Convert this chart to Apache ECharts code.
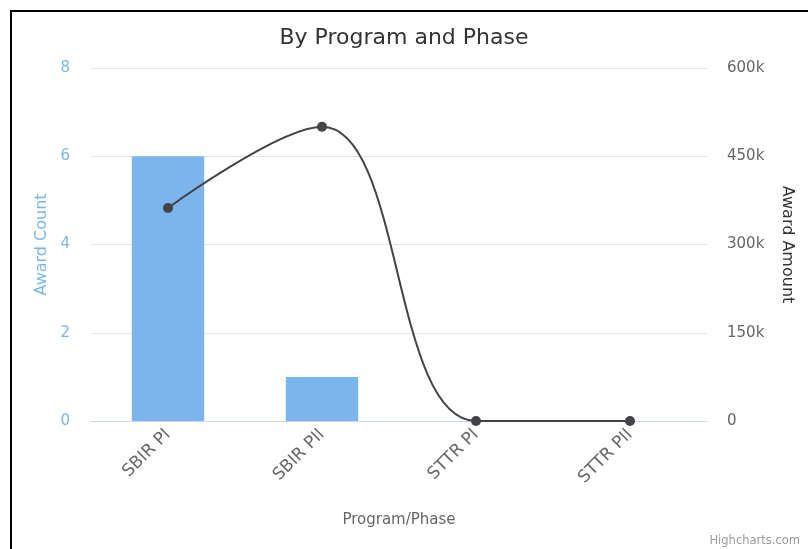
<!DOCTYPE html>
<html>
<head>
<meta charset="utf-8">
<script src="https://cdn.jsdelivr.net/npm/echarts@6/dist/echarts.min.js"></script>
<style>
  html, body { margin: 0; padding: 0; background: #fff; }
  #chart { position: absolute; left: 0; top: 0; width: 808px; height: 549px; }
  #frame { position: absolute; left: 10px; top: 10px; width: 820px; height: 560px;
           border-left: 2px solid #000; border-top: 2px solid #000; pointer-events: none; }
</style>
</head>
<body>
<div id="chart"></div>
<div id="frame"></div>
<script>
// values
const categories = ['SBIR PI', 'SBIR PII', 'STTR PI', 'STTR PII'];
const awardCount = [6, 1, 0, 0];
const awardAmount = [362000, 500000, 0, 0];

const font = 'DejaVu Sans';
const chart = echarts.init(document.getElementById('chart'));

chart.setOption({
  animation: false,
  textStyle: { fontFamily: font },
  title: {
    text: 'By Program and Phase',
    left: 'center',
    top: 22,
    textStyle: { fontSize: 22, fontWeight: 'normal', color: '#333', fontFamily: font }
  },
  graphic: [{
    type: 'text',
    right: 8,
    bottom: 2,
    style: { text: 'Highcharts.com', fill: '#999', fontSize: 11.5, fontFamily: font }
  }],
  grid: { left: 91, right: 101, top: 68, bottom: 128 },
  xAxis: {
    type: 'category',
    data: categories,
    name: 'Program/Phase',
    nameLocation: 'middle',
    nameGap: 92,
    nameTextStyle: { color: '#666', fontSize: 15 },
    axisLine: { lineStyle: { color: '#ccd6eb' } },
    axisTick: { length: 10, lineStyle: { color: '#ccd6eb' } },
    axisLabel: { rotate: 45, color: '#666', fontSize: 17, margin: 11 }
  },
  yAxis: [
    {
      type: 'value',
      min: 0, max: 8, interval: 2,
      name: 'Award Count',
      nameLocation: 'middle',
      nameGap: 41,
      nameTextStyle: { color: '#7cb5ec', fontSize: 16 },
      axisLabel: { color: '#7cb5ec', fontSize: 15, margin: 21 },
      splitLine: { lineStyle: { color: '#e6e6e6' } }
    },
    {
      type: 'value',
      min: 0, max: 600000, interval: 150000,
      name: 'Award Amount',
      nameLocation: 'middle',
      nameRotate: -90,
      nameGap: 72,
      nameTextStyle: { color: '#333', fontSize: 16 },
      axisLabel: {
        color: '#666', fontSize: 15, margin: 20,
        formatter: v => v === 0 ? '0' : (v / 1000) + 'k'
      },
      splitLine: { show: false }
    }
  ],
  series: [
    {
      name: 'Award Count',
      type: 'bar',
      data: awardCount,
      barWidth: '47%',
      itemStyle: { color: '#7cb5ec' }
    },
    {
      name: 'Award Amount',
      type: 'line',
      yAxisIndex: 1,
      data: awardAmount,
      smooth: 0.4,
      symbol: 'circle',
      symbolSize: 10,
      lineStyle: { color: '#434348', width: 2 },
      itemStyle: { color: '#434348' }
    }
  ]
});
</script>
</body>
</html>
